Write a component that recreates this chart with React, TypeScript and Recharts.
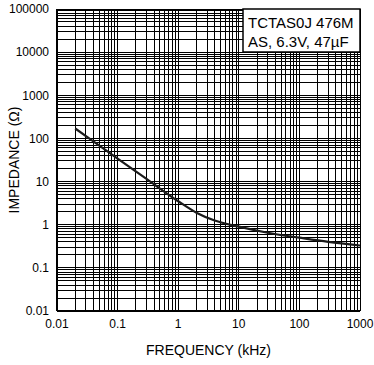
import { LineChart, Line, XAxis, YAxis, CartesianGrid } from "recharts";

// Impedance curve
const FREQ_KHZ = [0.02, 0.05, 0.1, 0.3, 1, 2, 4, 10, 30, 100, 300, 1000];
const IMPEDANCE = [170, 68, 34, 11.5, 3.5, 1.9, 1.25, 0.9, 0.65, 0.5, 0.4, 0.33];

const X_DECADES = [0.01, 0.1, 1, 10, 100, 1000];
const X_LABELS = ["0.01", "0.1", "1", "10", "100", "1000"];
const Y_DECADES = [0.01, 0.1, 1, 10, 100, 1000, 10000, 100000];
const Y_LABELS = ["0.01", "0.1", "1", "10", "100", "1000", "10000", "100000"];

const LEGEND_LINES = ["TCTAS0J 476M", "AS, 6.3V, 47\u00b5F"];

// grid lines at 1..9 of every decade
const minorTicks = (decades: number[]) => {
  const out: number[] = [];
  decades.forEach((d, i) => {
    if (i === decades.length - 1) {
      out.push(d);
      return;
    }
    for (let k = 1; k <= 9; k++) out.push(+(d * k).toPrecision(3));
  });
  return out;
};

const xTicks = minorTicks(X_DECADES);
const yTicks = minorTicks(Y_DECADES);

const labelFor = (decades: number[], labels: string[]) => (v: number) => {
  const i = decades.findIndex((d) => Math.abs(d - v) / d < 1e-6);
  return i >= 0 ? labels[i] : "";
};

const chartData = FREQ_KHZ.map((f, i) => ({ f, z: IMPEDANCE[i] }));

const FONT = "'Liberation Sans', Arial, sans-serif";

export default function App() {
  return (
    <div
      style={{
        position: "absolute",
        left: 0,
        top: 0,
        width: 374,
        height: 365,
        background: "#fff",
        fontFamily: FONT,
      }}
    >
      <LineChart
        width={374}
        height={365}
        data={chartData}
        margin={{ top: 9, right: 14, left: 0, bottom: 0 }}
      >
        <CartesianGrid stroke="#000" strokeWidth={1} shapeRendering="crispEdges" />
        <XAxis
          dataKey="f"
          type="number"
          scale="log"
          domain={[0.01, 1000]}
          ticks={xTicks}
          interval={0}
          allowDataOverflow
          tickFormatter={labelFor(X_DECADES, X_LABELS)}
          tick={{ fontSize: 12, fill: "#000", fontFamily: FONT }}
          tickLine={false}
          axisLine={{ stroke: "#000", strokeWidth: 2 }}
          height={54}
          label={{
            value: "FREQUENCY (kHz)",
            position: "insideBottom",
            offset: 10,
            style: { fontSize: 14, fill: "#000", fontFamily: FONT },
          }}
        />
        <YAxis
          dataKey="z"
          type="number"
          scale="log"
          domain={[0.01, 100000]}
          ticks={yTicks}
          interval={0}
          allowDataOverflow
          tickFormatter={labelFor(Y_DECADES, Y_LABELS)}
          tick={{ fontSize: 12, fill: "#000", fontFamily: FONT }}
          tickLine={false}
          axisLine={{ stroke: "#000", strokeWidth: 2 }}
          width={57}
          label={{
            value: "IMPEDANCE (\u03a9)",
            angle: -90,
            position: "insideLeft",
            offset: 14,
            style: { fontSize: 14, fill: "#000", fontFamily: FONT, textAnchor: "middle" },
          }}
        />
        <Line
          dataKey="z"
          type="monotone"
          stroke="#1a1a1a"
          strokeWidth={2.2}
          dot={false}
          isAnimationActive={false}
        />
      </LineChart>
      <svg
        width={374}
        height={365}
        style={{ position: "absolute", left: 0, top: 0, pointerEvents: "none" }}
      >
        <rect x={243} y={9} width={117} height={43} fill="#fff" stroke="#000" strokeWidth={1.5} />
        {LEGEND_LINES.map((t, i) => (
          <text
            key={i}
            x={248}
            y={28 + i * 19}
            fontSize={15}
            fontFamily={FONT}
            fill="#000"
          >
            {t}
          </text>
        ))}
      </svg>
    </div>
  );
}
